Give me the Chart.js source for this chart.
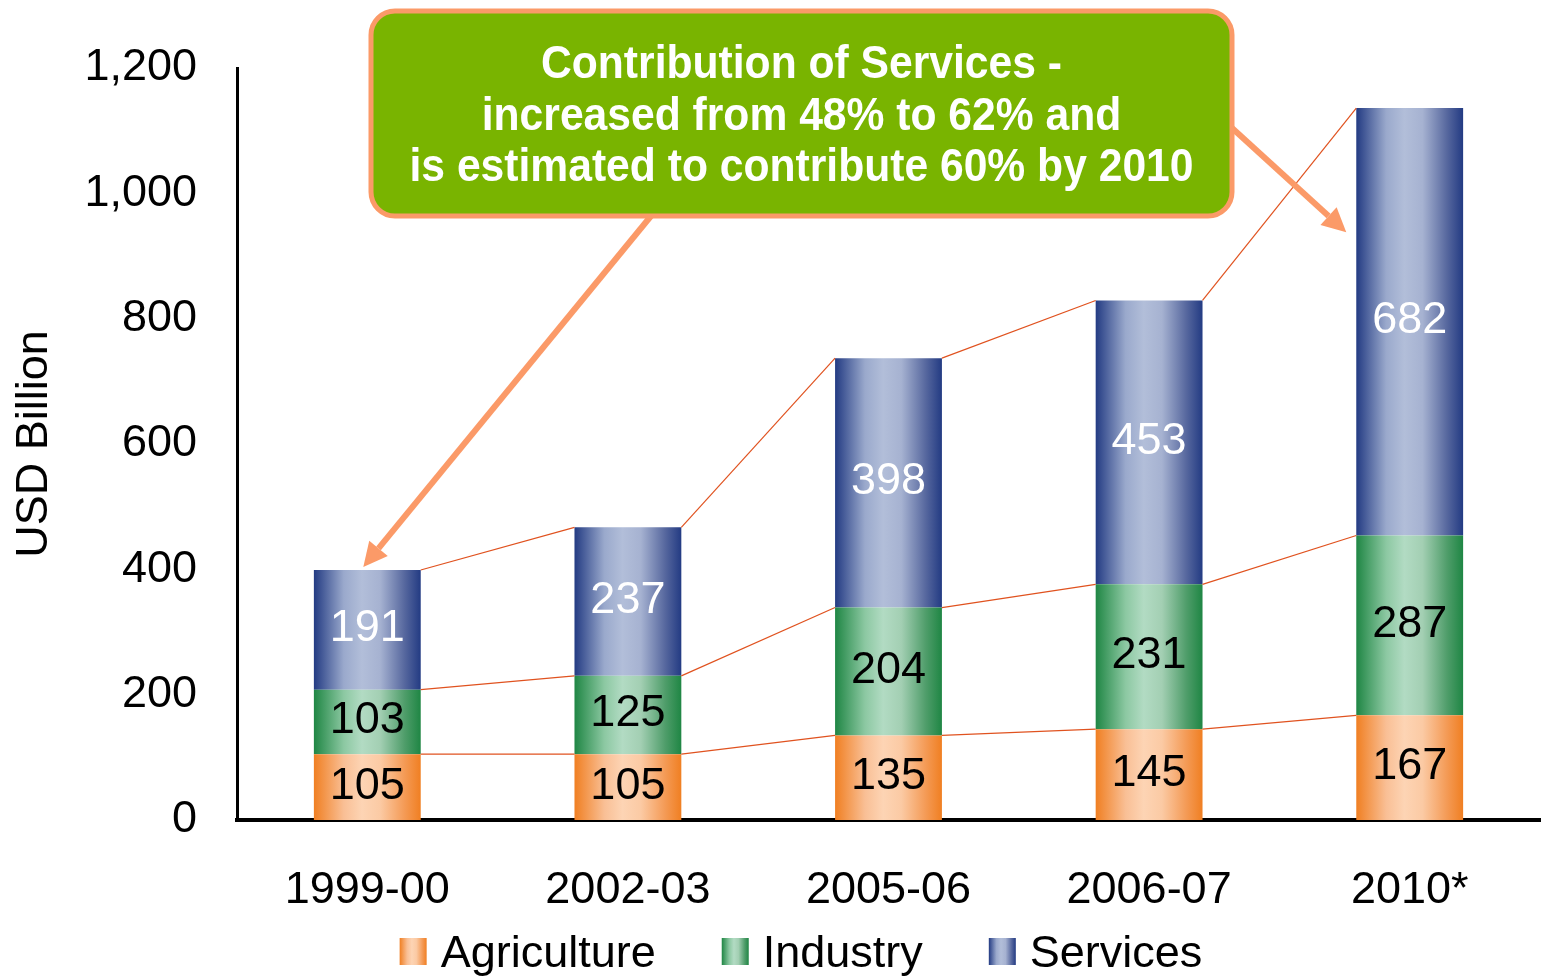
<!DOCTYPE html>
<html>
<head>
<meta charset="utf-8">
<script src="https://cdn.jsdelivr.net/npm/chart.js@4.4.1/dist/chart.umd.min.js"></script>
<style>
  html, body { margin: 0; padding: 0; background: #ffffff; }
  #wrap { width: 1542px; height: 978px; position: relative; }
  canvas { display: block; }
</style>
</head>
<body>
<div id="wrap"><canvas id="c" width="1542" height="978"></canvas></div>
<script>
// ---- data ----
const categories = ['1999-00', '2002-03', '2005-06', '2006-07', '2010*'];
const agriculture = [105, 105, 135, 145, 167];
const industry = [103, 125, 204, 231, 287];
const services = [191, 237, 398, 453, 682];
const seriesNames = ['Agriculture', 'Industry', 'Services'];
const yTicks = [0, 200, 400, 600, 800, 1000, 1200];
const calloutLines = [
  'Contribution of Services -',
  'increased from 48% to 62% and',
  'is estimated to contribute 60% by 2010'
];
const arrowTargetValue2010 = 938;

// ---- styles ----
const FONT = "'Liberation Sans', Arial, Helvetica, sans-serif";
const gradStops = {
  Agriculture: [[0, '#f07f22'], [0.28, '#f9bf95'], [0.45, '#fdd4b4'], [0.62, '#fbcaa4'], [0.85, '#f49a55'], [1, '#f07f22']],
  Industry:    [[0, '#1f8644'], [0.28, '#8cc8a2'], [0.45, '#b2dbc3'], [0.62, '#a3cfb3'], [0.85, '#4f9d6a'], [1, '#1f8644']],
  Services:    [[0, '#233b83'], [0.28, '#9aa9cc'], [0.45, '#b2bed9'], [0.62, '#a6b2d1'], [0.85, '#56679e'], [1, '#233b83']]
};
const solid = { Agriculture: '#f5a46a', Industry: '#5aaa78', Services: '#6677aa' };
const labelColors = { Agriculture: '#000000', Industry: '#000000', Services: '#ffffff' };
const CAT_PCT = 0.41;

function barGradient(ctx2d, name, left, right) {
  const g = ctx2d.createLinearGradient(left, 0, right, 0);
  gradStops[name].forEach(s => g.addColorStop(s[0], s[1]));
  return g;
}

function scriptBg(name) {
  return function(context) {
    const chart = context.chart;
    const xs = chart.scales && chart.scales.x;
    if (!xs || !chart.chartArea || context.dataIndex === undefined) return solid[name];
    const cx = xs.getPixelForValue(context.dataIndex);
    const hw = (xs.width / categories.length) * CAT_PCT / 2;
    return barGradient(chart.ctx, name, cx - hw, cx + hw);
  };
}

// ---- plugins ----
const seriesLinesPlugin = {
  id: 'seriesLines',
  afterDatasetsDraw(chart) {
    const ctx = chart.ctx;
    ctx.save();
    ctx.strokeStyle = '#e0521f';
    ctx.lineWidth = 1.2;
    chart.data.datasets.forEach((ds, di) => {
      const meta = chart.getDatasetMeta(di);
      for (let i = 0; i < meta.data.length - 1; i++) {
        const a = meta.data[i], b = meta.data[i + 1];
        ctx.beginPath();
        ctx.moveTo(a.x + a.width / 2, a.y);
        ctx.lineTo(b.x - b.width / 2, b.y);
        ctx.stroke();
      }
    });
    ctx.restore();
  }
};

const dataLabelsPlugin = {
  id: 'dataLabels',
  afterDatasetsDraw(chart) {
    const ctx = chart.ctx;
    ctx.save();
    ctx.font = '45px ' + FONT;
    ctx.textAlign = 'center';
    ctx.textBaseline = 'middle';
    chart.data.datasets.forEach((ds, di) => {
      const meta = chart.getDatasetMeta(di);
      ctx.fillStyle = labelColors[ds.label];
      meta.data.forEach((el, i) => {
        const cy = (el.y + el.base) / 2;
        ctx.fillText(String(ds.data[i]), el.x, cy - 1);
      });
    });
    ctx.restore();
  }
};

function drawArrow(ctx, x1, y1, x2, y2, color) {
  const ang = Math.atan2(y2 - y1, x2 - x1);
  const headLen = 24, headHalf = 12;
  const bx = x2 - headLen * Math.cos(ang), by = y2 - headLen * Math.sin(ang);
  ctx.save();
  ctx.strokeStyle = color;
  ctx.fillStyle = color;
  ctx.lineWidth = 6;
  ctx.beginPath();
  ctx.moveTo(x1, y1);
  ctx.lineTo(bx, by);
  ctx.stroke();
  ctx.beginPath();
  ctx.moveTo(x2, y2);
  ctx.lineTo(bx + headHalf * Math.sin(ang), by - headHalf * Math.cos(ang));
  ctx.lineTo(bx - headHalf * Math.sin(ang), by + headHalf * Math.cos(ang));
  ctx.closePath();
  ctx.fill();
  ctx.restore();
}

const calloutPlugin = {
  id: 'callout',
  afterDraw(chart) {
    const ctx = chart.ctx;
    const ys = chart.scales.y;
    const box = { x: 371, y: 11, w: 861, h: 205, r: 24 };
    const orange = '#fb9a68';
    // arrows
    const m = chart.getDatasetMeta(2);
    const first = m.data[0], last = m.data[m.data.length - 1];
    drawArrow(ctx, 651, box.y + box.h, first.x - 4, first.y - 3, orange);
    drawArrow(ctx, box.x + box.w, 128, last.x - last.width / 2 - 10, ys.getPixelForValue(arrowTargetValue2010), orange);
    // box
    ctx.save();
    ctx.beginPath();
    ctx.roundRect(box.x, box.y, box.w, box.h, box.r);
    ctx.fillStyle = '#79b400';
    ctx.fill();
    ctx.lineWidth = 5;
    ctx.strokeStyle = orange;
    ctx.stroke();
    // text
    ctx.fillStyle = '#ffffff';
    ctx.font = 'bold 46px ' + FONT;
    ctx.textAlign = 'center';
    ctx.textBaseline = 'middle';
    const w3 = ctx.measureText(calloutLines[2]).width;
    const sx = Math.min(1, 784 / w3);
    const cx = box.x + box.w / 2;
    const ysLines = [65, 117, 168];
    calloutLines.forEach((t, i) => {
      ctx.save();
      ctx.translate(cx, ysLines[i]);
      ctx.scale(sx, 1);
      ctx.fillText(t, 0, 0);
      ctx.restore();
    });
    ctx.restore();
  }
};

const legendPlugin = {
  id: 'customLegend',
  afterDraw(chart) {
    const ctx = chart.ctx;
    ctx.save();
    ctx.font = '45px ' + FONT;
    ctx.textBaseline = 'middle';
    ctx.textAlign = 'left';
    const box = 27, gapText = 14, gapItem = 66;
    const widths = seriesNames.map(n => box + gapText + ctx.measureText(n).width);
    const total = widths.reduce((a, b) => a + b, 0) + gapItem * (seriesNames.length - 1);
    let x = 801 - total / 2;
    const cy = 952;
    seriesNames.forEach((n, i) => {
      ctx.fillStyle = barGradient(ctx, n, x, x + box);
      ctx.fillRect(x, cy - 14, box, box);
      ctx.fillStyle = '#000000';
      ctx.fillText(n, x + box + gapText, cy + 3);
      x += widths[i] + gapItem;
    });
    ctx.restore();
  }
};

// ---- chart ----
new Chart(document.getElementById('c'), {
  type: 'bar',
  data: {
    labels: categories,
    datasets: [
      { label: 'Agriculture', data: agriculture, backgroundColor: scriptBg('Agriculture') },
      { label: 'Industry', data: industry, backgroundColor: scriptBg('Industry') },
      { label: 'Services', data: services, backgroundColor: scriptBg('Services') }
    ]
  },
  options: {
    responsive: false,
    animation: false,
    devicePixelRatio: 1,
    layout: { padding: { top: 68, right: 2, left: 0, bottom: 0 } },
    datasets: { bar: { categoryPercentage: CAT_PCT, barPercentage: 1, borderWidth: 0 } },
    plugins: {
      legend: { display: false },
      tooltip: { enabled: false },
      title: { display: false }
    },
    scales: {
      x: {
        stacked: true,
        grid: { display: false, drawTicks: false },
        border: { display: true, color: '#000000', width: 4 },
        ticks: { color: '#000000', font: { family: FONT, size: 45 }, padding: 44, maxRotation: 0, autoSkip: false },
        afterFit(scale) { scale.height = 158; }
      },
      y: {
        stacked: true,
        min: 0,
        max: 1200,
        grid: { display: false, drawTicks: false },
        border: { display: true, color: '#000000', width: 3 },
        afterBuildTicks(scale) { scale.ticks = yTicks.map(v => ({ value: v })); },
        ticks: {
          color: '#000000',
          font: { family: FONT, size: 45 },
          padding: 40,
          callback: v => Number(v).toLocaleString('en-US')
        },
        title: {
          display: true,
          text: 'USD Billion',
          color: '#000000',
          font: { family: FONT, size: 45 },
          padding: { top: 8, bottom: 0 }
        },
        afterFit(scale) { scale.width = 237; }
      }
    }
  },
  plugins: [seriesLinesPlugin, dataLabelsPlugin, calloutPlugin, legendPlugin]
});
</script>
</body>
</html>
